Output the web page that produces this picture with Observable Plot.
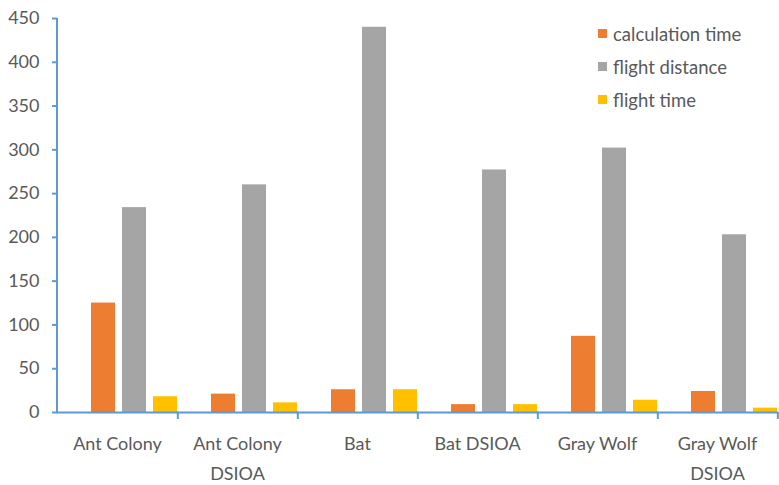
<!DOCTYPE html>
<html>
<head>
<meta charset="utf-8">
<script src="https://cdn.jsdelivr.net/npm/d3@7"></script>
<script src="https://cdn.jsdelivr.net/npm/@observablehq/plot@0.6"></script>
<style>
  html, body { margin: 0; padding: 0; background: #fff; }
  #wrap { position: relative; width: 779px; height: 485px; font-family: Lato, "Open Sans", sans-serif; }
  #legend { position: absolute; left: 598px; top: 17px; color: #595959; font-size: 18.5px; }
  #legend .item { display: flex; align-items: center; height: 33px; }
  #legend .sw { width: 9px; height: 9px; margin-right: 6px; }
</style>
</head>
<body>
<div id="wrap"><div id="legend"></div></div>
<script>
// Algorithms compared
const categories = ["Ant Colony", "Ant Colony DSIOA", "Bat", "Bat DSIOA", "Gray Wolf", "Gray Wolf DSIOA"];
// Axis labels for each algorithm (wrapped like the original category axis)
const tickLabels = ["Ant Colony", "Ant Colony\nDSIOA", "Bat", "Bat DSIOA", "Gray Wolf", "Gray Wolf\nDSIOA"];

// Measured series
const series = ["calculation time", "flight distance", "flight time"];
const calculationTime = [125, 21, 26, 9, 87, 24];
const flightDistance = [234, 260, 440, 277, 302, 203];
const flightTime = [18, 11, 26, 9, 14, 5];

const yTicks = [0, 50, 100, 150, 200, 250, 300, 350, 400, 450];
const colors = ["#ED7D31", "#A5A5A5", "#FFC000"];
const axisBlue = "#5B9BD5";
const textGrey = "#595959";

const valuesBySeries = [calculationTime, flightDistance, flightTime];
const rows = [];
categories.forEach((c, i) => {
  series.forEach((s, j) => rows.push({category: c, series: s, value: valuesBySeries[j][i]}));
});

const width = 779, marginLeft = 55, marginRight = 0;
const step = (width - marginLeft - marginRight) / categories.length;

const chart = Plot.plot({
  width,
  height: 485,
  marginTop: 18,
  marginBottom: 73,
  marginLeft,
  marginRight,
  style: {fontFamily: "Lato, 'Open Sans', sans-serif", fontSize: "18px", color: textGrey, background: "#fff"},
  fx: {domain: categories, padding: 0, label: null, axis: null},
  x: {domain: series, paddingInner: 0.22, paddingOuter: 0.53, align: 1, axis: null},
  y: {domain: [0, 450], label: null, axis: null},
  color: {domain: series, range: colors},
  marks: [
    Plot.barY(rows, {fx: "category", x: "series", y: "value", fill: "series"}),
    Plot.frame({anchor: "bottom", stroke: axisBlue, strokeWidth: 2, strokeOpacity: 1}),
    Plot.axisY(yTicks, {tickSize: 5, tickPadding: 13, stroke: axisBlue, strokeWidth: 2, strokeOpacity: 1, fill: textGrey, label: null}),
    // category labels centred under each group
    Plot.axisFx({anchor: "bottom", tickSize: 0, tickPadding: 16, lineHeight: 1.67, fill: textGrey, label: null,
      tickFormat: d => tickLabels[categories.indexOf(d)]}),
    // tick marks between groups
    Plot.axisFx({anchor: "bottom", text: null, tickSize: 7, dx: step / 2, stroke: axisBlue, strokeWidth: 2, strokeOpacity: 1, label: null})
  ]
});

// vertical value-axis line along the left edge of the first group
const fx = chart.scale("fx");
const y = chart.scale("y");
d3.select(chart).append("line")
  .attr("x1", fx.apply(categories[0]))
  .attr("x2", fx.apply(categories[0]))
  .attr("y1", y.apply(0) + 1)
  .attr("y2", y.apply(450))
  .attr("stroke", axisBlue)
  .attr("stroke-width", 2);

document.getElementById("wrap").prepend(chart);

const legend = d3.select("#legend");
series.forEach((s, i) => {
  const item = legend.append("div").attr("class", "item");
  item.append("div").attr("class", "sw").style("background", colors[i]);
  item.append("span").text(s);
});
</script>
</body>
</html>
